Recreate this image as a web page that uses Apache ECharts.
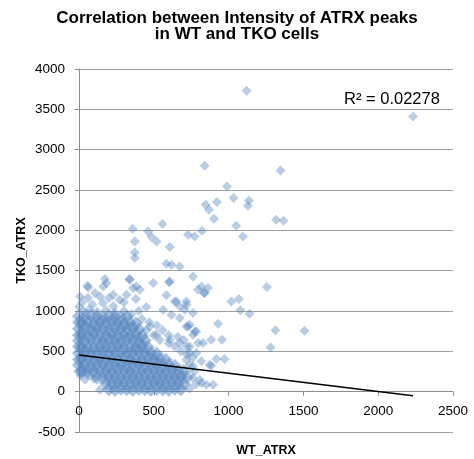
<!DOCTYPE html>
<html>
<head>
<meta charset="utf-8">
<script src="https://cdn.jsdelivr.net/npm/echarts@6/dist/echarts.min.js"></script>
<style>html,body{margin:0;padding:0;background:#fff;}#c{width:474px;height:459px;}</style>
</head>
<body>
<div id="c"></div>
<script>
// ---- chart text ----
const chartTitle = 'Correlation between Intensity of ATRX peaks\nin WT and TKO cells';
const xName = 'WT_ATRX';
const yName = 'TKO_ATRX';
const r2Label = 'R\u00B2 = 0.02278';

// ---- axis ranges ----
const xRange = [0, 2500, 500];
const yRange = [-500, 4000, 500];

// ---- dense core of the cloud [WT_ATRX, TKO_ATRX] ----
const corePoints = [
  [0,935],[40,925],[80,940],[120,930],[160,920],[200,935],[240,925],[280,915],[320,930],
  [0,860],[20,850],[60,860],[100,845],[140,860],[180,850],[220,865],[260,850],[300,840],[340,855],[380,845],
  [0,780],[40,790],[80,775],[120,785],[160,780],[200,770],[240,785],[280,780],[320,775],[360,790],[400,770],
  [0,700],[20,710],[60,700],[100,715],[140,705],[180,695],[220,710],[260,700],[300,710],[340,695],[380,705],[420,690],
  [0,630],[40,625],[80,640],[120,630],[160,620],[200,635],[240,630],[280,625],[320,640],[360,630],[400,620],[440,635],
  [0,560],[20,550],[60,555],[100,545],[140,560],[180,555],[220,550],[260,565],[300,550],[340,555],[380,545],[420,560],[460,550],
  [0,480],[40,485],[80,475],[120,480],[160,490],[200,475],[240,480],[280,485],[320,470],[360,480],[400,490],[440,475],[480,480],[520,470],
  [0,400],[20,410],[60,405],[100,395],[140,410],[180,400],[220,405],[260,395],[300,410],[340,400],[380,405],[420,395],[460,410],[500,400],[540,405],[580,395],
  [0,330],[40,335],[80,325],[120,330],[160,340],[200,325],[240,330],[280,335],[320,320],[360,330],[400,340],[440,325],[480,330],[520,335],[560,325],[600,330],[640,320],
  [10,250],[20,260],[60,255],[100,250],[140,260],[180,255],[220,250],[260,265],[300,255],[340,250],[380,260],[420,255],[460,250],[500,260],[540,255],[580,250],[620,260],[660,250],[700,255],
  [120,180],[160,175],[200,185],[240,180],[280,175],[320,185],[360,180],[400,175],[440,185],[480,180],[520,175],[560,185],[600,180],[640,175],[680,185],[720,180],
  [180,105],[220,100],[260,110],[300,105],[340,100],[380,110],[420,105],[460,100],[500,110],[540,105],[580,100],[620,110],[660,105],[700,100],
  [200,30],[240,25],[280,35],[320,30],[360,25],[400,35],[440,30],[480,25],[520,35],[560,30],[600,25],[640,35],[680,30]
];

// ---- scattered peaks around and above the core [WT_ATRX, TKO_ATRX] ----
const upperPoints = [
  [2233,3410],[1120,3730],[840,2800],[1347,2742],[989,2544],[1033,2400],[1136,2370],[1129,2305],
  [922,2350],[847,2317],[869,2255],[902,2144],[1318,2131],[1367,2119],[1051,2057],[1096,1925],
  [822,1995],[729,1945],[773,1925],[558,2078],[358,2020],[462,1987],[484,1917],[518,1863],
  [373,1863],[373,1726],[373,1657],[607,1793],[584,1586],[618,1574],[673,1553]
];
const midPoints = [
  [762,1429],[818,1305],[862,1285],[840,1223],[1256,1297],[1018,1119],[1069,1148],[1078,1008],
  [1140,967],[929,843],[1313,760],[1507,756],[884,644],[956,644],[1280,549],[918,405],[973,405],
  [884,322],[818,108],[896,87],[496,1347],[607,1367],[336,1396],[173,1396],[184,1347],[62,1292],
  [7,1181],[384,1305],[407,1264],[584,1194],[651,1119],[673,1057],[718,1078],[762,975],[740,830],
  [784,747],[836,1223],[56,1313],[162,1305],[340,1388],[362,1285],[602,1355],[796,1264],[107,1223],
  [140,1181],[229,1202],[273,1140],[318,1202],[640,1119],[718,1119],[562,1016],[618,954],[673,913],
  [718,809],[762,706],[796,603],[473,809],[518,706],[607,644],[673,603],[718,397],[762,314],
  [707,1016],[729,809],[773,747],[829,603],[740,561],[784,479],[818,376],[873,335],[807,149],[851,87]
];
const fringePoints = [
  [420,900],[470,860],[520,820],[450,760],[500,700],[560,760],[540,640],[600,600],[640,560],[600,700],
  [660,680],[700,640],[720,560],[680,500],[740,480],[760,420],[740,330],[770,250],[760,170],[780,90],
  [740,40],[720,460],[0,1050],[30,1000],[70,1020],[120,990],[180,1010],[240,980],[300,1000],[350,960],
  [20,1110],[90,1080],[160,1100],[230,1060],[300,1110],[400,1000],[450,1050],[380,1150],[200,1160],
  [60,1160],[10,200],[40,150],[140,25],[60,210],[100,160]
];

// ---- linear trendline end points ----
const trendX = [0, 2233];
const trendY = [455, -50];

const FONT = '"Liberation Sans", Arial, sans-serif';
const markerColor = '#4F81BD';
const gridHeight = 363;
// x axis sits on TKO_ATRX = 0, i.e. (0 - yMin) / (yMax - yMin) of the grid height above the bottom
const xAxisLift = gridHeight * (0 - yRange[0]) / (yRange[1] - yRange[0]);

const chart = echarts.init(document.getElementById('c'), null, {renderer: 'canvas'});
chart.setOption({
  animation: false,
  backgroundColor: '#ffffff',
  title: {
    text: chartTitle,
    left: 'center',
    top: 6,
    textStyle: {fontFamily: FONT, fontSize: 17, fontWeight: 'bold', color: '#000', lineHeight: 15.5}
  },
  grid: {left: 79, top: 69, width: 374, height: gridHeight, containLabel: false, outerBoundsMode: 'none'},
  xAxis: {
    type: 'value',
    min: xRange[0], max: xRange[1], interval: xRange[2],
    offset: -xAxisLift,
    name: xName, nameLocation: 'middle', nameGap: 52,
    nameTextStyle: {fontFamily: FONT, fontSize: 12.5, fontWeight: 'bold', color: '#000'},
    axisLine: {show: true, onZero: false, lineStyle: {color: '#8c8c8c', width: 1}},
    axisTick: {show: true, inside: false, length: 4, lineStyle: {color: '#8c8c8c'}},
    axisLabel: {fontFamily: FONT, fontSize: 13.5, color: '#000', margin: 13, formatter: v => String(v)},
    splitLine: {show: false}
  },
  yAxis: {
    type: 'value',
    min: yRange[0], max: yRange[1], interval: yRange[2],
    name: yName, nameLocation: 'middle', nameGap: 51, nameRotate: 90, nameMoveOverlap: false,
    nameTextStyle: {fontFamily: FONT, fontSize: 12.5, fontWeight: 'bold', color: '#000'},
    axisLine: {show: true, onZero: false, lineStyle: {color: '#8c8c8c', width: 1}},
    axisTick: {show: true, inside: false, length: 4, lineStyle: {color: '#8c8c8c'}},
    axisLabel: {fontFamily: FONT, fontSize: 13.5, color: '#000', margin: 14, formatter: v => String(v)},
    splitLine: {show: true, lineStyle: {color: '#a0a0a0', width: 1}}
  },
  graphic: [{
    type: 'text', left: 344, top: 91,
    style: {text: r2Label, font: '16.5px ' + FONT, fill: '#000'}
  }],
  series: [
    {
      type: 'scatter', data: corePoints, symbol: 'diamond', symbolSize: [14, 14],
      itemStyle: {color: markerColor, opacity: 0.5}, silent: true
    },
    {
      type: 'scatter', data: fringePoints.concat(midPoints, upperPoints), symbol: 'diamond', symbolSize: [10, 10],
      itemStyle: {color: markerColor, opacity: 0.4}, silent: true
    },
    {
      type: 'line', data: trendX.map((x, i) => [x, trendY[i]]), symbol: 'none', silent: true,
      lineStyle: {color: '#000', width: 1.5}, z: 5
    }
  ]
});
</script>
</body>
</html>
